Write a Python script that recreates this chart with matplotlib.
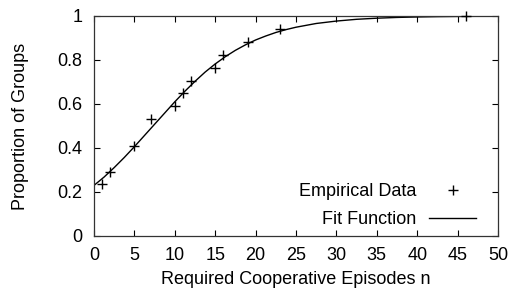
import matplotlib
matplotlib.use("Agg")
import matplotlib.pyplot as plt

# Empirical data points
emp_x = [1, 2, 5, 7, 10, 11, 12, 15, 16, 19, 23, 46]
emp_y = [0.235, 0.29, 0.41, 0.53, 0.59, 0.65, 0.705, 0.765, 0.825, 0.88, 0.94, 1.0]

# Fit function curve
fit_x = [0, 1.25, 2.5, 3.75, 5, 6.25, 7.5, 8.75, 10, 11.25, 12.5, 13.75, 15, 16.25, 17.5,
         18.75, 20, 21.25, 22.5, 23.75, 25, 27.5, 30, 32.5, 35, 37.5, 40, 42.5, 45, 47.5, 50]
fit_y = [0.230, 0.268, 0.311, 0.357, 0.406, 0.457, 0.508, 0.559, 0.610, 0.658, 0.703, 0.745,
         0.782, 0.815, 0.844, 0.869, 0.891, 0.909, 0.925, 0.938, 0.949, 0.966, 0.977, 0.985,
         0.990, 0.9935, 0.9956, 0.9971, 0.998, 0.9987, 0.9991]

x_ticks = [0, 5, 10, 15, 20, 25, 30, 35, 40, 45, 50]
y_ticks = [0, 0.2, 0.4, 0.6, 0.8, 1]
y_ticklabels = ["0", "0.2", "0.4", "0.6", "0.8", "1"]

plt.rcParams['font.family'] = ['Liberation Sans', 'DejaVu Sans']
plt.rcParams['font.size'] = 13

fig = plt.figure(figsize=(5.10, 2.93), dpi=100)
ax = fig.add_axes([94/510, 1-236/293, 404/510, 220/293])

ax.plot(emp_x, emp_y, linestyle='none', marker='+', markersize=7.5, markeredgewidth=1.0,
        color='black', label='Empirical Data', clip_on=False, zorder=5)
ax.plot(fit_x, fit_y, color='black', linewidth=1.0, label='Fit Function')

ax.set_xlim(0, 50)
ax.set_ylim(0, 1)
ax.set_xticks(x_ticks)
ax.set_xticklabels([str(t) for t in x_ticks])
ax.set_yticks(y_ticks)
ax.set_yticklabels(y_ticklabels)
ax.tick_params(axis='y', direction='in', length=4, width=0.8, right=True,
               pad=8.5, colors='black')
ax.tick_params(axis='x', direction='in', length=4, width=0.8, top=True,
               pad=8, colors='black')
for s in ax.spines.values():
    s.set_linewidth(0.9)
    s.set_color('#333333')

ax.set_xlabel('Required Cooperative Episodes n', labelpad=5)
ax.set_ylabel('Proportion of Groups', labelpad=20)

leg = ax.legend(loc='lower right', bbox_to_anchor=(0.9455, 0.035), frameon=False,
                markerfirst=False, borderpad=0, borderaxespad=0, handlelength=2.6,
                handletextpad=0.7, labelspacing=0.6)
leg.legend_handles[0].set_markersize(6.5)

fig.savefig('out.png', dpi=100)
